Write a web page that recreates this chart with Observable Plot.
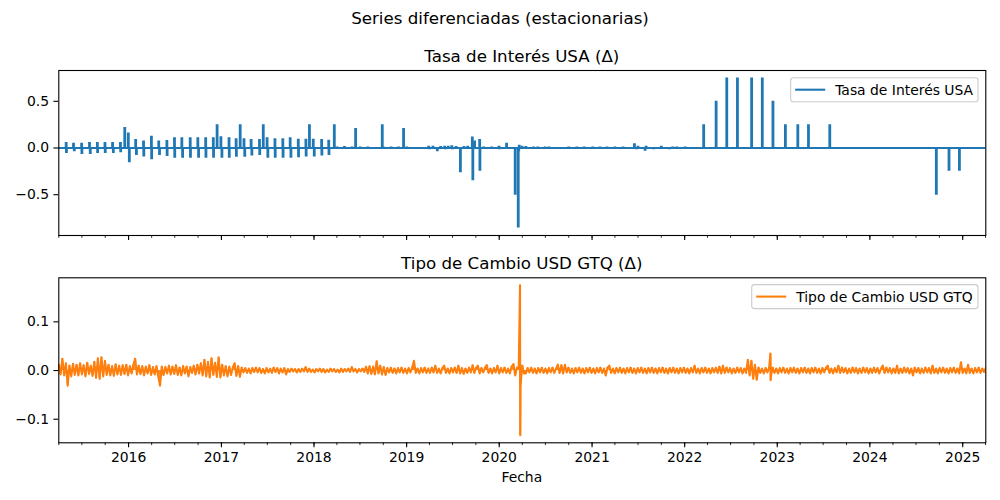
<!DOCTYPE html>
<html>
<head>
<meta charset="utf-8">
<script src="https://cdn.jsdelivr.net/npm/d3@7"></script>
<script src="https://cdn.jsdelivr.net/npm/@observablehq/plot@0.6"></script>
<style>
  body { margin: 0; background: #fff; }
  #wrap { position: relative; width: 1000px; height: 500px; font-family: "DejaVu Sans", sans-serif; background: #fff; }
</style>
</head>
<body>
<div id="wrap"></div>
<script>
// ---------- texts ----------
const suptitle = "Series diferenciadas (estacionarias)";
const title1 = "Tasa de Interés USA (Δ)";
const title2 = "Tipo de Cambio USD GTQ (Δ)";
const legend1 = "Tasa de Interés USA";
const legend2 = "Tipo de Cambio USD GTQ";
const xLabel = "Fecha";

// ---------- axis ticks ----------
const yearTicks = [2016, 2017, 2018, 2019, 2020, 2021, 2022, 2023, 2024, 2025];
const rateYTicks = [-0.5, 0.0, 0.5];
const fxYTicks = [-0.1, 0.0, 0.1];

// ---------- series extent ----------
const seriesStart = "2015-04-01";
const seriesEnd = "2025-04-02";

// ---------- Tasa de Interés USA: daily changes that are not zero ----------
const rateDates = [
  "2015-04-30","2015-05-01","2015-05-29","2015-06-01","2015-06-30","2015-07-01","2015-07-31","2015-08-03",
  "2015-08-31","2015-09-01","2015-09-30","2015-10-01","2015-10-30","2015-11-02","2015-11-30","2015-12-01",
  "2015-12-17","2015-12-31","2016-01-04","2016-01-29","2016-02-01","2016-02-29","2016-03-01","2016-03-31",
  "2016-04-01","2016-04-29","2016-05-02","2016-05-31","2016-06-01","2016-06-30","2016-07-01","2016-07-29",
  "2016-08-01","2016-08-31","2016-09-01","2016-09-30","2016-10-03","2016-10-31","2016-11-01","2016-11-30",
  "2016-12-01","2016-12-15","2016-12-30","2017-01-03","2017-01-31","2017-02-01","2017-02-28","2017-03-01",
  "2017-03-16","2017-03-31","2017-04-03","2017-04-28","2017-05-01","2017-05-31","2017-06-01","2017-06-15",
  "2017-06-30","2017-07-03","2017-07-31","2017-08-01","2017-08-31","2017-09-01","2017-09-29","2017-10-02",
  "2017-10-31","2017-11-01","2017-11-30","2017-12-01","2017-12-14","2017-12-29","2018-01-02","2018-01-31",
  "2018-02-01","2018-02-28","2018-03-01","2018-03-22","2018-04-02","2018-04-16","2018-05-01","2018-05-31",
  "2018-06-14","2018-07-02","2018-08-01","2018-08-31","2018-09-27","2018-10-01","2018-11-01","2018-11-30",
  "2018-12-20","2019-01-02","2019-03-15","2019-03-29","2019-04-01","2019-04-15","2019-04-30","2019-05-02",
  "2019-05-15","2019-05-31","2019-06-03","2019-06-14","2019-06-28","2019-07-01","2019-07-15","2019-08-01",
  "2019-08-15","2019-08-30","2019-09-03","2019-09-17","2019-09-19","2019-09-26","2019-10-16","2019-10-17",
  "2019-11-01","2019-11-15","2019-12-02","2019-12-31","2020-01-02","2020-01-30","2020-03-04","2020-03-16",
  "2020-03-18","2020-03-20","2020-03-31","2020-04-15","2020-05-01","2020-05-15","2020-06-01","2020-06-30",
  "2020-07-15","2020-10-01","2020-11-02","2020-12-01","2021-01-04","2021-02-01","2021-03-01","2021-04-01",
  "2021-05-03","2021-06-17","2021-06-25","2021-07-01","2021-07-29","2021-08-02","2021-09-01","2021-10-01",
  "2021-11-01","2021-11-15","2021-12-01","2022-01-03","2022-03-17","2022-05-05","2022-06-16","2022-07-28",
  "2022-09-22","2022-11-03","2022-11-15","2022-12-01","2022-12-15","2023-02-02","2023-02-15","2023-03-01",
  "2023-03-23","2023-05-04","2023-06-01","2023-06-15","2023-07-27","2024-09-19","2024-11-08","2024-12-19"
];
const rateChanges = [
  0.06,-0.06,0.05,-0.04,0.05,-0.07,0.06,-0.07,
  0.06,-0.06,0.06,-0.06,0.06,-0.06,0.06,-0.05,
  0.22,0.16,-0.157,0.09,-0.08,0.075,-0.096,0.125,
  -0.125,0.075,-0.08,0.08,-0.09,0.11,-0.11,0.11,
  -0.11,0.11,-0.11,0.11,-0.11,0.11,-0.11,0.11,
  -0.11,0.25,0.12,-0.11,0.11,-0.11,0.10,-0.10,
  0.25,0.10,-0.10,0.09,-0.086,0.09,-0.08,0.25,
  0.11,-0.11,0.10,-0.11,0.10,-0.11,0.11,-0.11,
  0.093,-0.104,0.093,-0.096,0.25,0.093,-0.096,0.09,
  -0.086,0.082,-0.079,0.25,0.01,-0.01,0.015,0.01,
  0.21,0.01,0.01,-0.01,0.25,0.01,0.01,0.01,
  0.21,0.01,-0.015,0.02,-0.02,0.02,-0.015,-0.04,
  0.015,0.02,-0.02,0.02,0.025,-0.02,0.015,-0.265,
  0.015,0.02,-0.015,0.118,-0.35,0.075,0.09,-0.25,
  0.01,-0.01,0.01,0.02,-0.02,0.05,-0.505,-0.857,
  -0.04,0.03,0.02,0.015,-0.01,0.01,0.01,0.01,
  0.01,0.01,0.01,0.01,0.01,0.01,0.01,0.01,
  0.01,0.045,-0.02,0.02,-0.035,0.02,-0.02,0.02,
  -0.02,0.01,0.01,0.01,0.25,0.50,0.75,0.75,
  0.75,0.75,-0.01,-0.01,0.50,0.25,-0.01,-0.01,
  0.25,0.25,-0.01,-0.01,0.25,-0.505,-0.25,-0.25
];

// ---------- Tipo de Cambio USD GTQ: weekly-read changes from 2015-04-01 ----------
const fxStepDays = 7;
const fxValues = [
  .012,-.008,.024,-.010,.015,-.031,.010,-.012,.014,-.009,.012,-.010,.015,-.008,.011,-.012,.016,-.007,.010,-.011,
  .018,-.015,.025,-.017,.027,-.012,.020,-.009,.012,-.010,.009,-.011,.013,-.008,.010,-.009,.011,-.007,.012,-.010,
  .009,-.006,.012,.024,-.008,.010,-.007,.009,-.010,.008,-.006,.011,-.009,.007,-.008,.009,-.012,-.031,.008,-.009,
  .007,-.006,.010,-.008,.008,-.007,.011,-.009,.006,-.010,.009,-.006,.008,-.012,.007,-.005,.010,-.008,.012,-.006,
  .015,-.010,.022,-.012,.018,-.014,.025,-.009,.016,-.013,.027,-.014,.012,-.010,.009,-.012,.008,-.009,.007,.015,
  -.011,.009,-.013,.006,-.004,.005,-.005,.004,-.006,.005,-.003,.006,-.004,.005,-.005,.003,-.006,.005,-.004,.004,
  -.005,.006,-.003,.005,-.006,.004,-.004,.005,-.008,.003,-.003,.004,-.002,.003,-.004,.003,-.003,.004,-.002,.007,
  -.003,.004,-.003,.002,-.004,.003,-.002,.004,-.003,.003,-.004,.002,-.003,.004,-.002,.003,-.003,.002,-.004,.004,
  -.003,.003,-.002,.004,-.003,.007,-.002,.003,-.004,.003,-.002,.004,-.003,.008,-.006,.009,-.007,.008,-.008,.019,
  -.006,.010,-.008,.007,-.009,.005,-.004,.006,-.005,.004,-.006,.005,-.004,.006,-.005,.004,-.006,.005,-.004,.006,
  .020,-.005,.004,-.006,.005,-.004,.006,-.005,.004,-.005,.006,-.004,.010,-.005,.004,-.006,.005,.010,-.005,.004,
  -.006,.005,-.004,.006,-.005,.010,-.006,.005,-.007,.004,-.005,.006,-.004,.011,-.005,.006,.010,-.006,.005,-.004,
  .006,.011,-.005,.004,-.006,.005,-.004,.010,-.006,.005,-.004,.006,-.005,.004,-.006,.008,.013,-.010,.006,.006,
  -.030,.010,-.006,-.006,.005,-.004,.006,-.005,.004,-.006,.005,-.004,.006,-.005,.004,-.006,.005,-.004,.006,-.005,
  .004,.012,-.005,.011,-.006,.012,-.004,.006,-.005,.004,-.006,.005,-.004,.006,-.005,.004,-.006,.005,-.004,.006,
  -.005,.004,-.006,.005,-.004,.006,-.005,.004,-.010,.006,.010,-.005,.004,-.006,.005,-.004,.006,-.005,.004,-.006,
  .005,-.004,.006,-.005,.004,-.006,.005,-.004,.006,-.005,.004,-.006,.005,-.004,.006,-.005,.004,-.006,.005,-.004,
  .006,-.005,.004,-.006,.005,-.004,.006,-.005,.004,-.006,.005,-.004,.006,-.005,.004,-.006,.005,-.004,.010,-.005,
  .004,-.006,.005,-.004,.006,-.005,.004,-.006,.005,-.004,.006,-.005,.008,-.006,.010,-.005,.006,-.004,.005,-.006,
  .004,-.005,.006,-.004,.005,-.006,.004,-.005,.022,-.010,.020,-.017,.012,-.019,.006,-.005,.004,-.006,.005,-.004,
  .006,-.012,.006,-.005,.004,-.006,.005,-.004,.006,-.005,.004,-.006,.005,-.004,.006,-.005,.004,-.006,.005,-.004,
  .006,-.005,.004,-.006,.005,-.004,.006,-.005,.004,-.006,.005,-.004,.006,.010,-.005,.004,-.006,.005,-.004,.010,
  -.005,.006,-.004,.005,-.006,.004,-.005,.006,-.004,.005,-.006,.004,-.005,.006,-.004,.005,-.006,.004,-.005,.006,
  -.004,.005,-.006,.004,.010,-.005,.006,-.004,.005,-.006,.004,-.005,.010,-.006,.004,-.005,.006,-.004,.005,-.006,
  .004,-.010,.006,-.004,.005,-.006,.004,-.005,.006,-.004,.005,-.006,.010,-.005,.004,-.006,.005,-.004,.006,-.005,
  .004,-.006,.005,-.004,.006,-.005,.004,-.006,.017,-.005,.004,-.006,.012,-.005,.004,-.006,.005,-.004,.006,-.005,
  .004,-.003,.005
];
// single-day jumps read separately
const fxSpikeDates = ["2020-03-23", "2020-03-24", "2022-12-05", "2022-12-06"];
const fxSpikeValues = [0.175, -0.133, 0.035, -0.020];

// ---------- build tables ----------
const parse = d3.utcParse("%Y-%m-%d");
const xStart = parse(seriesStart), xEnd = parse(seriesEnd);
const rateEvents = rateDates.map((d, i) => ({date: parse(d), value: rateChanges[i]}));
const rateBase = [{date: xStart, value: 0}, {date: xEnd, value: 0}];
const fxData = fxValues.map((v, i) => ({date: d3.utcDay.offset(xStart, fxStepDays * i), value: v}))
  .concat(fxSpikeDates.map((d, i) => ({date: parse(d), value: fxSpikeValues[i]})))
  .sort((a, b) => a.date - b.date);
const yearDates = yearTicks.map(y => new Date(Date.UTC(y, 0, 1)));
const quarterDates = d3.utcMonth.every(3).range(xStart, d3.utcDay.offset(xEnd, 1));

const BLUE = "#1f77b4", ORANGE = "#ff7f0e";
const LW = 2.08;
const plotStyle = {fontFamily: "DejaVu Sans", fontSize: "13.9px", color: "black", background: "transparent", overflow: "visible"};

function xAxes(withLabels) {
  return [
    Plot.axisX({ticks: quarterDates, tickSize: 2.8, strokeWidth: 0.83, tickFormat: () => "", label: null}),
    Plot.axisX({ticks: yearDates, tickSize: 4.9, strokeWidth: 1.1, tickPadding: 4.9,
      tickFormat: withLabels ? d3.utcFormat("%Y") : () => "", label: null})
  ];
}

const rateChart = Plot.plot({
  width: 1000, height: 250,
  marginTop: 70, marginBottom: 15, marginLeft: 58.3, marginRight: 14.7,
  style: plotStyle,
  x: {type: "utc", domain: [xStart, xEnd]},
  y: {domain: [-0.937, 0.830]},
  marks: [
    Plot.lineY(rateBase, {x: "date", y: "value", stroke: BLUE, strokeWidth: LW, clip: true}),
    Plot.ruleX(rateEvents, {x: "date", y1: 0, y2: "value", stroke: BLUE, strokeWidth: 2.8, clip: true}),
    Plot.axisY({ticks: rateYTicks, tickFormat: d3.format(".1f"), tickSize: 4.9, tickPadding: 4.9, strokeWidth: 1.1, label: null}),
    ...xAxes(false),
    Plot.frame({stroke: "black", strokeWidth: 1.1})
  ]
});

const fxChart = Plot.plot({
  width: 1000, height: 250,
  marginTop: 27.3, marginBottom: 57.7, marginLeft: 58.3, marginRight: 14.7,
  style: plotStyle,
  x: {type: "utc", domain: [xStart, xEnd]},
  y: {domain: [-0.1484, 0.1904]},
  marks: [
    Plot.ruleX(fxData, {x: "date", y1: 0, y2: "value", stroke: ORANGE, strokeWidth: 1.8, clip: true}),
    Plot.lineY(fxData, {x: "date", y: "value", stroke: ORANGE, strokeWidth: LW, clip: true}),
    Plot.axisY({ticks: fxYTicks, tickFormat: d3.format(".1f"), tickSize: 4.9, tickPadding: 4.9, strokeWidth: 1.1, label: null}),
    ...xAxes(true),
    Plot.frame({stroke: "black", strokeWidth: 1.1})
  ]
});

const wrap = document.getElementById("wrap");
[rateChart, fxChart].forEach((svg, i) => {
  svg.style.position = "absolute";
  svg.style.left = "0px";
  svg.style.top = (i * 250) + "px";
  wrap.appendChild(svg);
});

// ---------- titles, legends, axis label ----------
const ov = d3.select(wrap).append("svg")
  .attr("width", 1000).attr("height", 500)
  .style("position", "absolute").style("left", 0).style("top", 0)
  .style("font-family", "DejaVu Sans");

const txt = (s, x, y, size, anchor = "middle") =>
  ov.append("text").attr("x", x).attr("y", y).attr("font-size", size)
    .attr("text-anchor", anchor).attr("fill", "black").text(s);

txt(suptitle, 500, 24, 16.67);
txt(title1, 521.8, 61.7, 16.67);
txt(title2, 521.8, 268.8, 16.67);
txt(xLabel, 521.8, 481.5, 13.9);

function legend(x, y, w, h, color, label) {
  ov.append("rect").attr("x", x).attr("y", y).attr("width", w).attr("height", h)
    .attr("rx", 2.8).attr("fill", "white").attr("fill-opacity", 0.8)
    .attr("stroke", "#cccccc").attr("stroke-width", 1.1);
  const cy = y + h / 2;
  ov.append("line").attr("x1", x + 4.5).attr("x2", x + 34.5).attr("y1", cy).attr("y2", cy)
    .attr("stroke", color).attr("stroke-width", LW);
  txt(label, x + 44.5, cy + 5.1, 13.9, "start");
}
legend(790.7, 77.7, 187.3, 24, BLUE, legend1);
legend(751.7, 284.6, 226.3, 24, ORANGE, legend2);
</script>
</body>
</html>
